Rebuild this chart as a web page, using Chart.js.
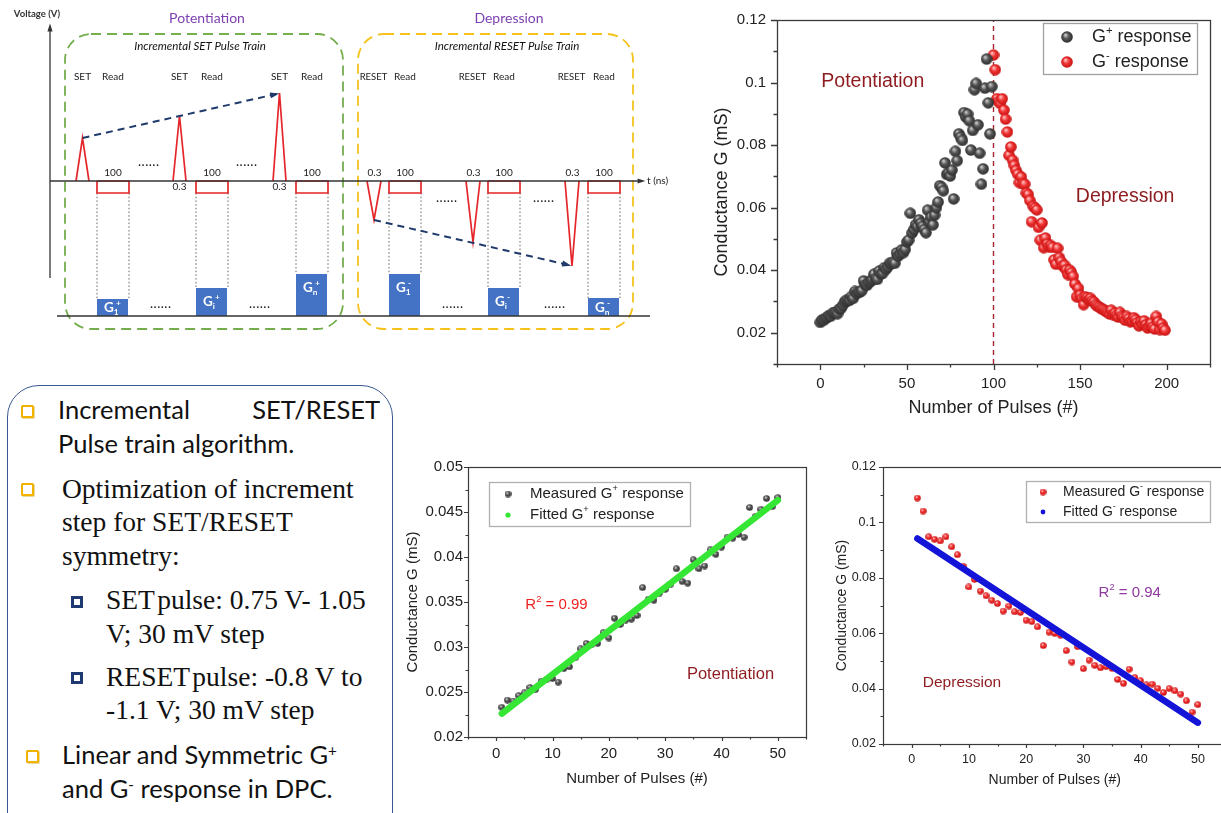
<!DOCTYPE html>
<html><head><meta charset="utf-8">
<script src="https://cdn.jsdelivr.net/npm/chart.js@4.4.1/dist/chart.umd.min.js"></script>
<style>
html,body{margin:0;padding:0;background:#fff;overflow:hidden;width:1221px;height:813px;position:relative;}
canvas{position:absolute;}
#box{position:absolute;left:7px;top:385px;width:386px;height:460px;border:1.6px solid #3a5a94;border-radius:32px;box-sizing:border-box;}
.t{position:absolute;white-space:nowrap;line-height:1;color:#111;}
.sans{font-family:Lato,"Open Sans",sans-serif;font-size:25.5px;}
.serif{font-family:"Liberation Serif","Times New Roman",serif;font-size:27.5px;}
.bo{position:absolute;width:9px;height:9px;border:2.2px solid #f2b300;border-radius:1.5px;background:#fff;box-shadow:1px 1px 0 #e8d9a0;}
.bn{position:absolute;width:6px;height:6px;border:3px solid #1f3a73;background:#fff;}
sup{font-size:60%;vertical-align:0;position:relative;top:-0.55em;}
</style></head>
<body>
<canvas id="sch" width="700" height="340" style="left:0;top:0"></canvas>
<canvas id="cMain" width="521" height="420" style="left:700px;top:0"></canvas>
<canvas id="cPot" width="420" height="350" style="left:400px;top:450px"></canvas>
<canvas id="cDep" width="420" height="350" style="left:820px;top:450px"></canvas>

<div id="box"></div>
<div class="bo" style="left:21px;top:405px"></div>
<div class="t sans" style="left:58px;top:397px">Incremental</div>
<div class="t sans" style="right:841px;top:397px">SET/RESET</div>
<div class="t sans" style="left:58px;top:431px">Pulse train algorithm.</div>
<div class="bo" style="left:21px;top:483px"></div>
<div class="t serif" style="left:62px;top:475px">Optimization of increment</div>
<div class="t serif" style="left:62px;top:508px">step for SET/RESET</div>
<div class="t serif" style="left:62px;top:542px">symmetry:</div>
<div class="bn" style="left:71px;top:596px"></div>
<div class="t serif" style="left:106px;top:586px">SET&#8202;pulse: 0.75 V- 1.05</div>
<div class="t serif" style="left:106px;top:620px">V; 30 mV step</div>
<div class="bn" style="left:71px;top:672px"></div>
<div class="t serif" style="left:106px;top:663px">RESET&#8202;pulse: -0.8 V to</div>
<div class="t serif" style="left:106px;top:696px">-1.1 V; 30 mV step</div>
<div class="bo" style="left:26px;top:750px"></div>
<div class="t sans" style="left:62px;top:742px">Linear and Symmetric G<sup>+</sup></div>
<div class="t sans" style="left:62px;top:776px">and G<sup>-</sup> response in DPC.</div>

<script>
// ================= DATA =================
// Schematic (time in schematic units, voltage in V)
const setLabel = 'SET', resetLabel = 'RESET', readLabel = 'Read';
const setPulseStart = [76, 173, 273];
const resetPulseStart = [367, 466, 565];
const setPulseAmp = [0.43, 0.65, 0.88];
const resetPulseAmp = [-0.39, -0.61, -0.85];
const readStart = [97, 196, 296, 389, 488, 588];
const readAmp = -0.12;
const gLevelPlus = [0.17, 0.28, 0.42];
const gLevelMinus = [0.42, 0.28, 0.18];
const gSubs = ['1', 'i', 'n'];
const pulseWidthText = '0.3';
const readWidthText = '100';

// Full G+ / G- response (conductance, mS) vs pulse number
const gPlus = [
 0.0233,0.0241,0.0240,0.0246,0.0249,0.0255,0.0253,0.0262,0.0264,0.0265,
 0.0261,0.0276,0.0278,0.0288,0.0298,0.0304,0.0303,0.0304,0.0316,0.0310,
 0.0332,0.0325,0.0330,0.0331,0.0335,0.0366,0.0353,0.0352,0.0360,0.0364,
 0.0370,0.0387,0.0373,0.0371,0.0397,0.0387,0.0390,0.0408,0.0403,0.0411,
 0.0422,0.0421,0.0425,0.0422,0.0455,0.0445,0.0453,0.0465,0.0456,0.0466,
 0.0490,0.0496,0.0582,0.0519,0.0530,0.0545,0.0540,0.0561,0.0550,0.0540,
 0.0530,0.0520,0.0592,0.0555,0.0570,0.0545,0.0576,0.0600,0.0618,0.0670,
 0.0665,0.0654,0.0743,0.0706,0.0710,0.0701,0.0720,0.0628,0.0780,0.0750,
 0.0836,0.0825,0.0815,0.0904,0.0890,0.0899,0.0878,0.0784,0.0847,0.0977,
 0.0997,0.0865,0.0774,0.0675,0.0724,0.0982,0.1075,0.0935,0.0836,0.0987];
const gMinus = [
 0.1088,0.1041,0.0948,0.0939,0.0933,0.0948,0.0912,0.0883,0.0842,0.0767,
 0.0794,0.0752,0.0735,0.0719,0.0707,0.0680,0.0698,0.0677,0.0675,0.0647,
 0.0642,0.0623,0.0555,0.0604,0.0599,0.0593,0.0537,0.0496,0.0551,0.0472,
 0.0503,0.0484,0.0475,0.0479,0.0473,0.0433,0.0419,0.0470,0.0440,0.0428,
 0.0413,0.0416,0.0401,0.0386,0.0400,0.0392,0.0380,0.0356,0.0315,0.0342,
 0.0320,0.0310,0.0290,0.0315,0.0312,0.0305,0.0310,0.0302,0.0298,0.0290,
 0.0285,0.0282,0.0278,0.0275,0.0272,0.0268,0.0265,0.0260,0.0272,0.0258,
 0.0262,0.0255,0.0250,0.0265,0.0252,0.0248,0.0240,0.0252,0.0245,0.0235,
 0.0238,0.0248,0.0242,0.0232,0.0222,0.0235,0.0228,0.0238,0.0225,0.0215,
 0.0222,0.0230,0.0218,0.0212,0.0252,0.0235,0.0210,0.0228,0.0215,0.0208];
const gPlusStart = 0, gMinusStart = 100, polarityBoundary = 100;

// First 50 pulses (linear fits)
const measPlus = gPlus.slice(0, 50);
const measMinus = gMinus.slice(0, 50);
const fitPlusX = [1, 50], fitPlusY = [0.0226, 0.0463];
const fitMinusX = [1, 50], fitMinusY = [0.0942, 0.0277];
const r2Plus = '0.99', r2Minus = '0.94';

// ================= HELPERS =================
const SANS = '"Liberation Sans", Arial, sans-serif';
Chart.defaults.font.family = SANS;
Chart.defaults.color = '#222';

function makeBall(d, c0, c1, c2) {
  const cv = document.createElement('canvas'); cv.width = d; cv.height = d;
  const x = cv.getContext('2d');
  const g = x.createRadialGradient(d*0.36, d*0.32, d*0.04, d*0.5, d*0.5, d*0.5);
  g.addColorStop(0, c0); g.addColorStop(0.45, c1); g.addColorStop(1, c2);
  x.fillStyle = g; x.beginPath(); x.arc(d/2, d/2, d/2 - 0.2, 0, Math.PI*2); x.fill();
  return cv;
}
const ballDarkL = makeBall(12, '#c8c8c8', '#555', '#2b2b2b');
const ballRedL = makeBall(12, '#ffc0c0', '#f03434', '#c41010');
const ballDarkS = makeBall(7, '#d0d0d0', '#555', '#2b2b2b');
const ballRedS = makeBall(7, '#ffc0c0', '#f02a2a', '#c41010');

function drawRich(ctx, parts, x, y, size, color, align, weight, family) {
  family = family || SANS; weight = weight || '';
  const f = m => weight + ' ' + (m === 'n' ? size : Math.round(size*0.62*10)/10) + 'px ' + family;
  let w = 0;
  parts.forEach(([s, m]) => { ctx.font = f(m); w += ctx.measureText(s).width; });
  let cx = align === 'center' ? x - w/2 : (align === 'right' ? x - w : x);
  ctx.fillStyle = color; ctx.textBaseline = 'middle'; ctx.textAlign = 'left';
  parts.forEach(([s, m]) => {
    ctx.font = f(m);
    const dy = m === 'sup' ? -size*0.36 : (m === 'sub' ? size*0.3 : 0);
    ctx.fillText(s, cx, y + dy);
    cx += ctx.measureText(s).width;
  });
}

const frameTicks = {
  id: 'frameTicks',
  afterDraw(chart, args, o) {
    const {ctx, chartArea: a, scales: {x: xs, y: ys}} = chart;
    ctx.save();
    ctx.strokeStyle = '#3a3a3a'; ctx.lineWidth = o.lw || 1.2;
    ctx.strokeRect(Math.round(a.left)+0.5, Math.round(a.top)+0.5, Math.round(a.right-a.left), Math.round(a.bottom-a.top));
    ctx.beginPath();
    xs.ticks.forEach(t => {
      const p = Math.round(xs.getPixelForValue(t.value)) + 0.5;
      const L = t.label !== '' ? o.major : o.minor;
      ctx.moveTo(p, a.bottom); ctx.lineTo(p, a.bottom + L);
    });
    ys.ticks.forEach(t => {
      const p = Math.round(ys.getPixelForValue(t.value)) + 0.5;
      const L = t.label !== '' ? o.major : o.minor;
      ctx.moveTo(a.left, p); ctx.lineTo(a.left - L, p);
    });
    ctx.stroke();
    ctx.restore();
  }
};

const deco = {
  id: 'deco',
  afterDatasetsDraw(chart, args, o) {
    const {ctx, scales: {x: xs, y: ys}} = chart;
    ctx.save();
    if (o.legend) {
      const L = o.legend;
      ctx.fillStyle = '#fff'; ctx.fillRect(L.x, L.y, L.w, L.h);
      ctx.strokeStyle = L.border || '#a8a8a8'; ctx.lineWidth = 1.3;
      ctx.strokeRect(L.x + 0.5, L.y + 0.5, L.w, L.h);
      L.items.forEach(it => {
        if (it.img) ctx.drawImage(it.img, L.mx - it.img.width/2, it.y - it.img.height/2);
        else { ctx.fillStyle = it.color; ctx.beginPath(); ctx.arc(L.mx, it.y, it.r, 0, Math.PI*2); ctx.fill(); }
        drawRich(ctx, it.parts, L.tx, it.y, L.size, '#222', 'left');
      });
    }
    (o.texts || []).forEach(t => drawRich(ctx, t.parts, xs.getPixelForValue(t.x), ys.getPixelForValue(t.y), t.size, t.color, 'center'));
    ctx.restore();
  }
};

function yTickCb(step, majorEvery, digits) {
  return v => {
    const r = Math.round(v / step);
    return r % majorEvery === 0 ? String(Math.round(v * Math.pow(10, digits)) / Math.pow(10, digits)) : '';
  };
}
function xTickCb(major) { return v => (Math.round(v) % major === 0 ? String(Math.round(v)) : ''); }

function axisOpts(o) {
  return {
    x: {
      type: 'linear', min: o.xmin, max: o.xmax,
      ticks: {stepSize: o.xstep, callback: xTickCb(o.xmajor), autoSkip: false, maxRotation: 0, font: {size: o.tick}, color: '#222', padding: o.xpad},
      grid: {display: false, drawTicks: false}, border: {display: false},
      title: {display: true, text: 'Number of Pulses (#)', font: {size: o.title}, color: '#222', padding: {top: 0, bottom: o.xtpad}},
      afterFit: s => { s.height = o.xh; }
    },
    y: {
      type: 'linear', min: o.ymin, max: o.ymax,
      ticks: {stepSize: o.ystep, callback: yTickCb(o.ystep, o.ymajor, o.ydig), autoSkip: false, font: {size: o.tick}, color: '#222', padding: o.ypad},
      grid: {display: false, drawTicks: false}, border: {display: false},
      title: {display: true, text: 'Conductance G (mS)', font: {size: o.title}, color: '#222', padding: {top: o.ytpad, bottom: 0}},
      afterFit: s => { s.width = o.yw; }
    }
  };
}

// ================= SCHEMATIC =================
(function () {
  const red = '#e5262a', navy = '#1f3a6b', axisC = '#333', gBlue = '#4472c4';
  const PW = 13, RW = 32, GW = 31, GBASE = -1.35;
  const list = [];
  const seg = (pts, o) => list.push(Object.assign({data: pts, showLine: true, pointRadius: 0, borderWidth: 1.7, borderColor: red, fill: false, tension: 0}, o || {}));
  const gLevels = gLevelPlus.concat(gLevelMinus);
  readStart.forEach((r, i) => {
    const top = GBASE + gLevels[i];
    const dot = {borderColor: '#666', borderWidth: 1, borderDash: [1.5, 2.2]};
    seg([{x: r, y: readAmp}, {x: r, y: top}], dot);
    seg([{x: r + RW, y: readAmp}, {x: r + RW, y: top}], dot);
    seg([{x: r, y: top}, {x: r + GW, y: top}], {borderWidth: 0, fill: {value: GBASE}, backgroundColor: gBlue});
  });
  readStart.forEach(r => seg([{x: r, y: 0}, {x: r, y: readAmp}, {x: r + RW, y: readAmp}, {x: r + RW, y: 0}, {x: r, y: 0}]));
  setPulseStart.forEach((s, i) => seg([{x: s, y: 0}, {x: s + PW/2, y: setPulseAmp[i]}, {x: s + PW, y: 0}]));
  resetPulseStart.forEach((s, i) => seg([{x: s, y: 0}, {x: s + PW/2 + 0.5, y: resetPulseAmp[i]}, {x: s + PW + 1, y: 0}]));
  const dash = {borderColor: navy, borderWidth: 2, borderDash: [7, 5]};
  seg([{x: setPulseStart[0] + PW/2, y: setPulseAmp[0]}, {x: setPulseStart[2] + PW/2 - 3, y: setPulseAmp[2] - 0.01}], dash);
  seg([{x: resetPulseStart[0] + PW/2 + 0.5, y: resetPulseAmp[0]}, {x: resetPulseStart[2] + PW/2 - 3, y: resetPulseAmp[2] + 0.01}], dash);
  const ax = {borderColor: axisC, borderWidth: 1.3};
  seg([{x: 50, y: -0.97}, {x: 50, y: 1.52}], ax);
  seg([{x: 50, y: 0}, {x: 640, y: 0}], ax);
  seg([{x: 57, y: GBASE}, {x: 650, y: GBASE}], ax);
  list.reverse();

  const schDeco = {
    id: 'schDeco',
    beforeDatasetsDraw(chart) {
      const {ctx, scales: {x, y}} = chart;
      const X = v => x.getPixelForValue(v), Y = v => y.getPixelForValue(v);
      ctx.save();
      ctx.lineWidth = 1.8; ctx.setLineDash([10, 6]);
      ctx.strokeStyle = '#74ad4c';
      ctx.beginPath(); ctx.roundRect(X(65), Y(1.47), X(343) - X(65), Y(-1.48) - Y(1.47), 26); ctx.stroke();
      ctx.strokeStyle = '#f5c21b';
      ctx.beginPath(); ctx.roundRect(X(358), Y(1.47), X(633) - X(358), Y(-1.48) - Y(1.47), 26); ctx.stroke();
      ctx.restore();
    },
    afterDatasetsDraw(chart) {
      const {ctx, scales: {x, y}} = chart;
      const X = v => x.getPixelForValue(v), Y = v => y.getPixelForValue(v);
      ctx.save();
      const arrow = (x0, y0, x1, y1, s, c) => {
        const a = Math.atan2(Y(y1) - Y(y0), X(x1) - X(x0));
        const px = X(x1), py = Y(y1);
        ctx.fillStyle = c; ctx.beginPath();
        ctx.moveTo(px + Math.cos(a)*s*0.4, py + Math.sin(a)*s*0.4);
        ctx.lineTo(px - Math.cos(a - 0.45)*s, py - Math.sin(a - 0.45)*s);
        ctx.lineTo(px - Math.cos(a + 0.45)*s, py - Math.sin(a + 0.45)*s);
        ctx.closePath(); ctx.fill();
      };
      arrow(50, 0, 50, 1.55, 6, '#333');
      arrow(50, 0, 643, 0, 6, '#333');
      arrow(setPulseStart[0] + 6.5, setPulseAmp[0], setPulseStart[2] + 3.5, setPulseAmp[2] - 0.01, 7, '#1f3a6b');
      arrow(resetPulseStart[0] + 7, resetPulseAmp[0], resetPulseStart[2] + 3.5, resetPulseAmp[2] + 0.01, 7, '#1f3a6b');
      const T = (s, xv, yv, font, color, align) => { ctx.font = font; ctx.fillStyle = color || '#222'; ctx.textAlign = align || 'center'; ctx.textBaseline = 'middle'; ctx.fillText(s, X(xv), Y(yv)); };
      const F = '"Lato", "Open Sans", sans-serif';
      T('Voltage (V)', 37, 1.67, 'bold 9.5px ' + F, '#333');
      T('Potentiation', 207, 1.63, '14px ' + F, '#7b3fb0');
      T('Depression', 509, 1.63, '14px ' + F, '#7b3fb0');
      T('Incremental SET Pulse Train', 200, 1.35, 'italic 11.5px ' + F, '#111');
      T('Incremental RESET Pulse Train', 507, 1.35, 'italic 11.5px ' + F, '#111');
      T('t (ns)', 647, 0, '10px ' + F, '#222', 'left');
      const lf = '10px ' + F;
      setPulseStart.forEach((s, i) => {
        T(setLabel, s + 6.5, 1.04, lf);
        if (i > 0) T(pulseWidthText, s + 6.5, -0.06, lf);
      });
      resetPulseStart.forEach(s => { T(resetLabel, s + 6.5, 1.04, '9.5px ' + F); T(pulseWidthText, s + 7.5, 0.08, lf); });
      readStart.forEach(r => { T(readLabel, r + 16, 1.04, lf); T(readWidthText, r + 16, 0.08, lf); });
      const df = 'bold 11px ' + F;
      ctx.letterSpacing = '1px';
      [149, 247].forEach(v => T('......', v, 0.19, df));
      [447, 544].forEach(v => T('......', v, -0.17, df));
      [161, 260, 453, 555].forEach(v => T('......', v, -1.23, df));
      ctx.letterSpacing = '0px';
      const gl = gLevelPlus.concat(gLevelMinus);
      readStart.forEach((r, i) => {
        const top = -1.35 + gl[i];
        const cy = Math.max(top - 0.14, -1.27);
        const sign = i < 3 ? '+' : '-';
        drawRich(ctx, [['G', 'n'], [gSubs[i % 3], 'sub']], X(r + 7), Y(cy), 13.5, '#fff', 'left', 'bold', F);
        drawRich(ctx, [[sign, 'sup']], X(r + 19), Y(cy), 13.5, '#fff', 'left', 'bold', F);
      });
      ctx.restore();
    }
  };

  new Chart(document.getElementById('sch'), {
    type: 'scatter',
    data: {datasets: list},
    options: {
      responsive: false, animation: false, events: [],
      layout: {padding: 0, autoPadding: false},
      plugins: {legend: {display: false}, tooltip: {enabled: false}},
      scales: {x: {type: 'linear', display: false, min: 0, max: 700}, y: {type: 'linear', display: false, min: -1.59, max: 1.81}}
    },
    plugins: [schDeco]
  });
})();

// ================= MAIN RESPONSE CHART =================
new Chart(document.getElementById('cMain'), {
  type: 'scatter',
  data: {datasets: [
    {label: 'G⁺ response', data: gPlus.map((v, i) => ({x: gPlusStart + i, y: v})), pointStyle: ballDarkL, pointRadius: 6},
    {label: 'G⁻ response', data: gMinus.map((v, i) => ({x: gMinusStart + i, y: v})), pointStyle: ballRedL, pointRadius: 6},
    {label: 'boundary', data: [{x: polarityBoundary, y: 0.01}, {x: polarityBoundary, y: 0.12}], showLine: true, pointRadius: 0, borderColor: '#a32630', borderWidth: 1.4, borderDash: [5, 4]}
  ]},
  options: {
    responsive: false, animation: false, events: [],
    layout: {padding: {top: 12, right: 8, left: 0, bottom: 0}, autoPadding: false},
    plugins: {
      legend: {display: false}, tooltip: {enabled: false},
      frameTicks: {major: 6, minor: 3.5, lw: 1.3},
      deco: {
        legend: {x: 343, y: 23, w: 154, h: 51, mx: 367, tx: 392, size: 18, border: '#a0a0a0', items: [
          {img: ballDarkL, y: 37, parts: [['G', 'n'], ['+', 'sup'], [' response', 'n']]},
          {img: ballRedL, y: 62, parts: [['G', 'n'], ['-', 'sup'], [' response', 'n']]}
        ]},
        texts: [
          {parts: [['Potentiation', 'n']], x: 30.3, y: 0.1002, size: 19.5, color: '#8e1b1f'},
          {parts: [['Depression', 'n']], x: 176, y: 0.0634, size: 19.5, color: '#8e1b1f'}
        ]
      }
    },
    scales: axisOpts({xmin: -25, xmax: 225, xstep: 25, xmajor: 50, ymin: 0.01, ymax: 0.12, ystep: 0.01, ymajor: 2, ydig: 2,
      tick: 15, title: 18, xpad: 11, ypad: 11, xh: 56, yw: 77, xtpad: 1.2, ytpad: 11})
  },
  plugins: [frameTicks, deco]
});

// ================= POTENTIATION FIT =================
new Chart(document.getElementById('cPot'), {
  type: 'scatter',
  data: {datasets: [
    {label: 'Fitted G⁺ response', data: fitPlusX.map((x, i) => ({x, y: fitPlusY[i]})), showLine: true, pointRadius: 0, borderColor: '#35e635', borderWidth: 6.5, borderCapStyle: 'round'},
    {label: 'Measured G⁺ response', data: measPlus.map((v, i) => ({x: i + 1, y: v})), pointStyle: ballDarkS, pointRadius: 3.5}
  ]},
  options: {
    responsive: false, animation: false, events: [],
    layout: {padding: {top: 17, right: 14, left: 0, bottom: 0}, autoPadding: false},
    plugins: {
      legend: {display: false}, tooltip: {enabled: false},
      frameTicks: {major: 4, minor: 2.5, lw: 1.2},
      deco: {
        legend: {x: 89, y: 32, w: 201, h: 44, mx: 108, tx: 130, size: 15, border: '#b0b0b0', items: [
          {img: ballDarkS, y: 44, parts: [['Measured G', 'n'], ['+', 'sup'], [' response', 'n']]},
          {color: '#35e635', r: 2.6, y: 65, parts: [['Fitted G', 'n'], ['+', 'sup'], [' response', 'n']]}
        ]},
        texts: [
          {parts: [['R', 'n'], ['2', 'sup'], [' = ' + r2Plus, 'n']], x: 10.7, y: 0.0347, size: 15, color: '#ee2020'},
          {parts: [['Potentiation', 'n']], x: 41.6, y: 0.0269, size: 16.5, color: '#8e1b1f'}
        ]
      }
    },
    scales: axisOpts({xmin: -5, xmax: 55, xstep: 5, xmajor: 10, ymin: 0.02, ymax: 0.05, ystep: 0.0025, ymajor: 2, ydig: 4,
      tick: 15, title: 15, xpad: 8, ypad: 5, xh: 63, yw: 68, xtpad: 12, ytpad: 4})
  },
  plugins: [frameTicks, deco]
});

// ================= DEPRESSION FIT =================
new Chart(document.getElementById('cDep'), {
  type: 'scatter',
  data: {datasets: [
    {label: 'Fitted G⁻ response', data: fitMinusX.map((x, i) => ({x, y: fitMinusY[i]})), showLine: true, pointRadius: 0, borderColor: '#1414d8', borderWidth: 6.5, borderCapStyle: 'round'},
    {label: 'Measured G⁻ response', data: measMinus.map((v, i) => ({x: i + 1, y: v})), pointStyle: ballRedS, pointRadius: 3.5}
  ]},
  options: {
    responsive: false, animation: false, events: [],
    layout: {padding: {top: 17, right: 13.5, left: 0, bottom: 0}, autoPadding: false},
    plugins: {
      legend: {display: false}, tooltip: {enabled: false},
      frameTicks: {major: 4, minor: 2.5, lw: 1.2},
      deco: {
        legend: {x: 206, y: 31, w: 184, h: 41, mx: 223, tx: 243, size: 14, border: '#b0b0b0', items: [
          {img: ballRedS, y: 42, parts: [['Measured G', 'n'], ['-', 'sup'], [' response', 'n']]},
          {color: '#1414d8', r: 2.4, y: 62, parts: [['Fitted G', 'n'], ['-', 'sup'], [' response', 'n']]}
        ]},
        texts: [
          {parts: [['R', 'n'], ['2', 'sup'], [' = ' + r2Minus, 'n']], x: 38.1, y: 0.0745, size: 15, color: '#8e3a9e'},
          {parts: [['Depression', 'n']], x: 8.8, y: 0.042, size: 15.5, color: '#8e1b1f'}
        ]
      }
    },
    scales: axisOpts({xmin: -5, xmax: 55, xstep: 5, xmajor: 10, ymin: 0.02, ymax: 0.12, ystep: 0.01, ymajor: 2, ydig: 2,
      tick: 12.5, title: 14, xpad: 8, ypad: 7, xh: 56, yw: 63, xtpad: 11.6, ytpad: 13.6})
  },
  plugins: [frameTicks, deco]
});
</script>
</body></html>
